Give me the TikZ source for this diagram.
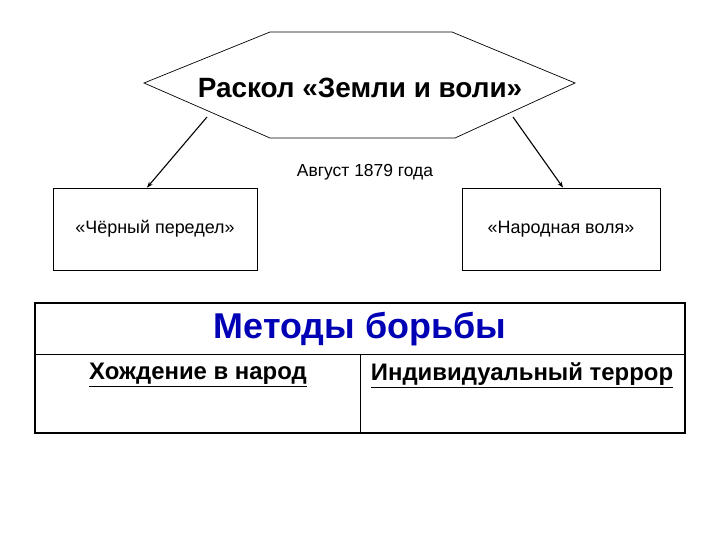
\documentclass[tikz,border=0pt]{standalone}
\usepackage{fontspec}
\setmainfont{Liberation Sans}
\usetikzlibrary{arrows.meta}
\definecolor{titleblue}{RGB}{0,0,180}
\begin{document}
\begin{tikzpicture}[x=1bp,y=-1bp,
  box/.style={draw,line width=0.8bp,minimum width=204bp,minimum height=82bp,inner sep=0pt,font=\fontsize{18}{21}\selectfont},
  conn/.style={line width=1.1bp,-{Stealth[length=6bp,width=4.5bp]}},
  head/.style={font=\fontsize{24}{28}\selectfont\bfseries}]
\useasboundingbox (0,0) rectangle (720,540);
% hexagon
\coordinate (h1) at (144,83);
\coordinate (h2) at (270,32);
\coordinate (h3) at (452,32);
\coordinate (h4) at (575,83);
\coordinate (h5) at (455,138);
\coordinate (h6) at (270,138);
\draw[line width=0.7bp] (h1)--(h2)--(h3)--(h4)--(h5)--(h6)--cycle;
\node[font=\fontsize{28}{32}\selectfont\bfseries] (hex) at (360,88) {Раскол «Земли и воли»};
\node[font=\fontsize{17.5}{20}\selectfont] (date) at (365,172) {Август 1879 года};
% boxes
\node[box] (lbox) at (155,229) {«Чёрный передел»};
\node[box,minimum width=198bp] (rbox) at (561,229) {«Народная воля»};
\coordinate (la) at (207,117);
\coordinate (ra) at (513,117);
\draw[conn] (la) -- ([xshift=-8bp]lbox.north);
\draw[conn] (ra) -- ([xshift=2bp]rbox.north);
% table
\coordinate (t1) at (35,303);
\coordinate (t2) at (685,433);
\coordinate (dl) at (35,354);
\coordinate (dr) at (685,354);
\coordinate (vt) at (360,354);
\coordinate (vb) at (360,433);
\draw[line width=1.6bp] (t1) rectangle (t2);
\draw[line width=0.8bp] (dl) -- (dr);
\draw[line width=0.8bp] (vt) -- (vb);
\node[font=\fontsize{36}{40}\selectfont\bfseries,text=titleblue] (title) at (360,329) {Методы борьбы};
\node[head] (m1) at (198,375) {\underline{Хождение в народ}};
\node[head] (m2) at (522,375) {\underline{Индивидуальный террор}};
\end{tikzpicture}
\end{document}
